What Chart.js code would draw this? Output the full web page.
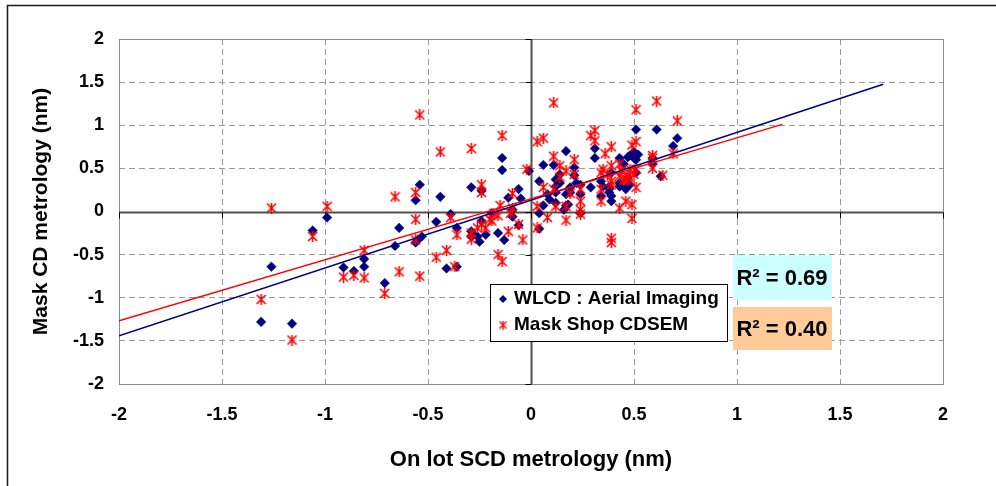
<!DOCTYPE html>
<html>
<head>
<meta charset="utf-8">
<script src="https://cdn.jsdelivr.net/npm/chart.js@4.4.0/dist/chart.umd.min.js"></script>
<style>
html,body{margin:0;padding:0;background:#fff;}
</style>
</head>
<body>
<canvas id="c" width="996" height="486"></canvas>
<script>
// WLCD : Aerial Imaging  (x = on lot SCD, y = mask CD)
var wlcdPoints = [[-1.31,-1.28],[-1.16,-1.30],[-1.26,-0.64],[-1.06,-0.22],[-0.99,-0.07],[-0.91,-0.65],[-0.86,-0.69],[-0.81,-0.55],[-0.81,-0.64],[-0.71,-0.83],
  [-0.66,-0.40],[-0.64,-0.19],[-0.56,0.13],[-0.54,0.31],[-0.56,-0.36],[-0.55,-0.33],[-0.53,-0.29],[-0.46,-0.12],[-0.44,0.17],[-0.41,-0.66],
  [-0.39,-0.03],[-0.36,-0.19],[-0.36,-0.64],[-0.29,-0.23],[-0.29,-0.29],[-0.29,0.28],[-0.28,-0.27],[-0.26,-0.29],[-0.25,-0.35],[-0.24,-0.11],
  [-0.24,0.24],[-0.22,-0.27],[-0.19,-0.02],[-0.16,-0.25],[-0.14,0.62],[-0.14,0.48],[-0.13,-0.33],[-0.11,0.16],[-0.09,0.02],[-0.09,-0.06],
  [-0.06,0.26],[-0.06,-0.16],[-0.05,0.15],[-0.01,0.47],[0.04,0.35],[0.04,-0.02],[0.04,-0.20],[0.06,0.07],[0.06,0.54],[0.08,0.20],
  [0.09,0.14],[0.11,0.54],[0.12,0.37],[0.12,0.29],[0.12,0.22],[0.12,0.10],[0.14,0.33],[0.14,0.43],[0.16,0.02],[0.17,0.70],
  [0.17,0.07],[0.17,0.20],[0.18,0.08],[0.19,0.22],[0.19,0.28],[0.21,0.51],[0.21,0.42],[0.22,0.33],[0.24,0.31],[0.24,0.20],
  [0.24,-0.02],[0.29,0.28],[0.31,0.73],[0.31,0.62],[0.34,0.35],[0.34,0.18],[0.35,0.29],[0.38,0.22],[0.38,0.29],[0.39,0.12],
  [0.39,0.45],[0.39,0.18],[0.38,0.26],[0.43,0.62],[0.43,0.33],[0.43,0.29],[0.45,0.55],[0.46,0.26],[0.47,0.63],[0.46,0.28],
  [0.47,0.39],[0.48,0.65],[0.48,0.31],[0.50,0.62],[0.50,0.69],[0.51,0.60],[0.51,0.45],[0.52,0.66],[0.51,0.95],[0.59,0.55],
  [0.59,0.62],[0.61,0.95],[0.63,0.41],[0.69,0.76],[0.71,0.85]];

// Mask Shop CDSEM
var semPoints = [[-1.26,0.04],[-1.31,-1.02],[-1.16,-1.49],[-1.06,-0.29],[-0.99,0.06],[-0.91,-0.76],[-0.86,-0.74],[-0.81,-0.77],[-0.81,-0.45],[-0.71,-0.95],
  [-0.66,0.17],[-0.64,-0.70],[-0.56,0.22],[-0.56,-0.09],[-0.56,-0.33],[-0.54,1.12],[-0.54,-0.75],[-0.46,-0.53],[-0.44,0.69],[-0.41,-0.45],
  [-0.39,-0.07],[-0.37,-0.64],[-0.36,-0.27],[-0.29,-0.25],[-0.29,-0.32],[-0.29,0.73],[-0.26,-0.19],[-0.24,0.31],[-0.24,0.22],[-0.24,-0.15],
  [-0.22,-0.19],[-0.20,-0.09],[-0.19,-0.11],[-0.18,-0.02],[-0.16,-0.50],[-0.16,-0.05],[-0.15,0.07],[-0.14,-0.58],[-0.14,0.88],[-0.11,-0.23],
  [-0.10,-0.02],[-0.09,0.21],[-0.09,0.04],[-0.06,-0.15],[-0.04,-0.33],[-0.02,0.49],[0.03,0.81],[0.06,0.85],[0.03,0.06],[0.03,-0.19],
  [0.06,0.28],[0.08,-0.07],[0.11,1.26],[0.11,0.64],[0.11,0.26],[0.12,0.06],[0.14,0.53],[0.14,0.40],[0.17,0.06],[0.17,-0.10],
  [0.17,0.47],[0.19,0.21],[0.21,0.43],[0.21,0.60],[0.24,0.26],[0.24,0.12],[0.24,0.02],[0.24,-0.03],[0.29,0.88],[0.31,0.94],
  [0.31,0.82],[0.34,0.45],[0.34,0.12],[0.34,0.26],[0.35,0.49],[0.36,0.67],[0.37,0.43],[0.39,0.75],[0.39,0.31],[0.39,0.35],
  [0.39,0.53],[0.39,-0.31],[0.39,-0.36],[0.43,0.55],[0.43,0.41],[0.43,0.04],[0.44,0.47],[0.45,0.36],[0.46,0.37],[0.46,0.12],
  [0.47,0.41],[0.48,0.49],[0.48,0.39],[0.49,0.77],[0.49,0.08],[0.49,-0.08],[0.50,0.43],[0.51,1.18],[0.51,0.81],[0.51,0.49],
  [0.51,0.28],[0.59,0.65],[0.59,0.62],[0.59,0.50],[0.61,1.28],[0.64,0.42],[0.69,0.67],[0.71,1.05]];

// trend lines (end points)
var wlcdFit = [[-2,-1.44],[1.71,1.475]];
var semFit = [[-2,-1.267],[1.22,1.01]];

var seriesNames = ['WLCD : Aerial Imaging', 'Mask Shop CDSEM'];
var r2Texts = ['R\u00b2 = 0.69', 'R\u00b2 = 0.40'];
var axisMin = -2, axisMax = 2, axisStep = 0.5;

var FONT = '"Liberation Sans", Arial, sans-serif';

function toXY(arr){
  var out=[];
  for(var i=0;i<arr.length;i++){ out.push({x:arr[i][0], y:arr[i][1]}); }
  return out;
}

function makeStar(s, lw){
  var c=document.createElement('canvas');
  c.width=s; c.height=s;
  var g=c.getContext('2d');
  g.strokeStyle='#ff0000';
  g.lineWidth=lw;
  g.beginPath();
  g.moveTo(1,1); g.lineTo(s-1,s-1);
  g.moveTo(s-1,1); g.lineTo(1,s-1);
  g.moveTo(s/2,0); g.lineTo(s/2,s);
  g.stroke();
  return c;
}
var starImg = makeStar(11, 1.6);
var starSmall = makeStar(9, 1.3);

function gridColor(c){
  var v = c.tick ? c.tick.value : null;
  if (v === 0 || v === axisMin || v === axisMax) return 'rgba(0,0,0,0)';
  return '#9a9a9a';
}

var decorPlugin = {
  id: 'decor',
  beforeDatasetsDraw: function(chart){
    var ctx=chart.ctx, a=chart.chartArea, xs=chart.scales.x, ys=chart.scales.y;
    var x0=Math.round(xs.getPixelForValue(0))+0.5, y0=Math.round(ys.getPixelForValue(0))+0.5;
    ctx.save();
    // plot border
    ctx.strokeStyle='#8c8c8c'; ctx.lineWidth=1;
    ctx.strokeRect(Math.round(a.left)+0.5, Math.round(a.top)+0.5, Math.round(a.right-a.left), Math.round(a.bottom-a.top));
    // zero axes
    ctx.strokeStyle='#505050'; ctx.lineWidth=2;
    ctx.beginPath();
    ctx.moveTo(a.left,y0); ctx.lineTo(a.right,y0);
    ctx.moveTo(x0,a.top); ctx.lineTo(x0,a.bottom);
    ctx.stroke();
    ctx.strokeStyle='#000'; ctx.lineWidth=1;
    ctx.beginPath();
    ys.ticks.forEach(function(t){
      var p=Math.round(ys.getPixelForValue(t.value))+0.5;
      ctx.moveTo(x0-6,p); ctx.lineTo(x0,p);
    });
    xs.ticks.forEach(function(t){
      var p=Math.round(xs.getPixelForValue(t.value))+0.5;
      ctx.moveTo(p,y0); ctx.lineTo(p,y0+6);
    });
    ctx.stroke();
    ctx.restore();
  },
  afterDraw: function(chart){
    var ctx=chart.ctx;
    ctx.save();
    // outer frame
    ctx.strokeStyle='#1a1a1a'; ctx.lineWidth=1.5;
    ctx.strokeRect(7.5,5.5,1000,500);

    // legend
    ctx.fillStyle='#fff';
    ctx.fillRect(490,284,237,57);
    ctx.strokeStyle='#000'; ctx.lineWidth=1;
    ctx.strokeRect(490.5,284.5,237,57);
    ctx.fillStyle='#000080';
    ctx.beginPath();
    ctx.moveTo(499,299); ctx.lineTo(503,295); ctx.lineTo(507,299); ctx.lineTo(503,303);
    ctx.closePath(); ctx.fill();
    ctx.drawImage(starSmall, 503-4.5, 325-4.5);
    ctx.fillStyle='#000';
    ctx.font='bold 19px '+FONT;
    ctx.textBaseline='middle'; ctx.textAlign='left';
    ctx.fillText(seriesNames[0], 514, 299);
    ctx.fillText(seriesNames[1], 514, 325);

    // R2 boxes
    ctx.fillStyle='#ccffff'; ctx.fillRect(733,255,99,45);
    ctx.fillStyle='#ffcc99'; ctx.fillRect(733,307,99,43);
    ctx.fillStyle='#000';
    ctx.font='bold 22px '+FONT;
    ctx.textAlign='center';
    ctx.fillText(r2Texts[0], 782, 279);
    ctx.fillText(r2Texts[1], 782, 330);
    ctx.restore();
  }
};

var tickFont = {family: FONT, size: 18, weight: 'bold'};

var ctx = document.getElementById('c').getContext('2d');
var chart = new Chart(ctx, {
  type: 'scatter',
  data: {
    datasets: [{
      type: 'line',
      label: 'fit1',
      data: toXY(wlcdFit),
      borderColor: '#000080',
      borderWidth: 1.5,
      pointRadius: 0,
      showLine: true,
      fill: false,
      order: 1
    },{
      type: 'line',
      label: 'fit2',
      data: toXY(semFit),
      borderColor: '#ff0000',
      borderWidth: 1.5,
      pointRadius: 0,
      showLine: true,
      fill: false,
      order: 0
    },{
      label: seriesNames[1],
      data: toXY(semPoints),
      pointStyle: starImg,
      pointRadius: 5,
      order: 2
    },{
      label: seriesNames[0],
      data: toXY(wlcdPoints),
      pointStyle: 'rectRot',
      pointRadius: 4.8,
      backgroundColor: '#000080',
      borderColor: '#000080',
      borderWidth: 0.5,
      order: 3
    }]
  },
  options: {
    responsive: false,
    animation: false,
    events: [],
    layout: {padding: {left: 0, right: 53, top: 39, bottom: 0}},
    plugins: {legend: {display: false}, tooltip: {enabled: false}},
    scales: {
      x: {
        type: 'linear',
        min: axisMin, max: axisMax,
        afterFit: function(s){ s.height = 102; },
        ticks: {stepSize: axisStep, color: '#000', font: tickFont, padding: 20,
          callback: function(v){ return String(v); }},
        grid: {color: gridColor, lineWidth: 1, drawTicks: false},
        border: {display: false, dash: [6,4]},
        title: {display: true, text: 'On lot SCD metrology (nm)', color: '#000',
          font: {family: FONT, size: 22, weight: 'bold'}, padding: {top: 0, bottom: 13}}
      },
      y: {
        type: 'linear',
        min: axisMin, max: axisMax,
        afterFit: function(s){ s.width = 119; },
        ticks: {stepSize: axisStep, color: '#000', font: tickFont, padding: 15,
          callback: function(v){ return String(v); }},
        grid: {color: gridColor, lineWidth: 1, drawTicks: false},
        border: {display: false, dash: [6,4]},
        title: {display: true, text: 'Mask CD metrology (nm)', color: '#000',
          font: {family: FONT, size: 21, weight: 'bold'}, padding: {top: 29, bottom: 0}}
      }
    }
  },
  plugins: [decorPlugin]
});
</script>
</body>
</html>
